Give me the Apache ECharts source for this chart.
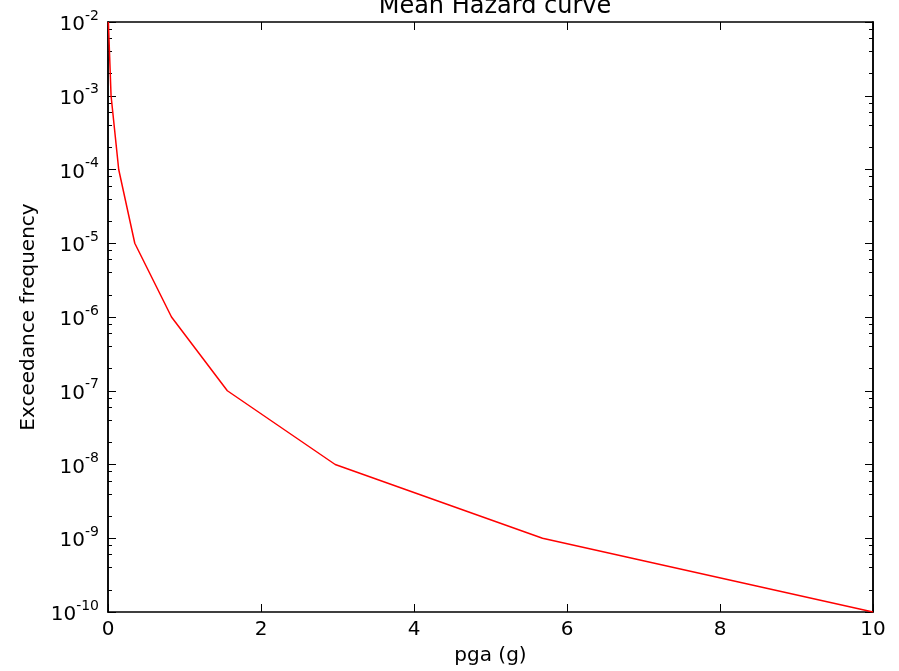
<!DOCTYPE html>
<html>
<head>
<meta charset="utf-8">
<script src="https://cdn.jsdelivr.net/npm/echarts@6/dist/echarts.min.js"></script>
<style>
  html, body { margin: 0; padding: 0; background: #fff; }
  #main { width: 899px; height: 671px; }
</style>
</head>
<body>
<div id="main"></div>
<script>
// pga (g) vs exceedance frequency
var pga = [0.005, 0.04, 0.14, 0.35, 0.83, 1.56, 2.97, 5.68, 10]
var freq = [1e-2, 1e-3, 1e-4, 1e-5, 1e-6, 1e-7, 1e-8, 1e-9, 1e-10]

var font = 'DejaVu Sans'

// minor ticks of log axis at 2,4,6,8 x 10^n
var minor = []
for (var d = -10; d < -2; d++) {
  [2, 4, 6, 8].forEach(function (k) { minor.push(k * Math.pow(10, d)) })
}

var chart = echarts.init(document.getElementById('main'))

var axLine = { color: '#000', width: 1.5 }
var tickMaj = { inside: true, length: 8, lineStyle: { color: '#000', width: 1 } }
var tickMin = { inside: true, length: 4, customValues: minor, lineStyle: { color: '#000', width: 1 } }

function logAxis(pos, showLabel, ticks) {
  var ax = {
    type: 'log', logBase: 10, min: 1e-10, max: 1e-2, interval: 1,
    position: pos,
    axisLine: { show: true, onZero: false, lineStyle: axLine },
    axisTick: ticks,
    splitLine: { show: false },
    axisLabel: { show: false }
  }
  if (showLabel) {
    ax.axisLabel = {
      show: true, margin: 9,
      formatter: function (v) {
        var e = Math.round(Math.log10(v))
        return '{b|10}{s|' + e + '}'
      },
      rich: {
        b: { fontSize: 20, fontFamily: font, color: '#000', lineHeight: 26, verticalAlign: 'bottom' },
        s: { fontSize: 14, fontFamily: font, color: '#000', lineHeight: 26, verticalAlign: 'top' }
      }
    }
    ax.name = 'Exceedance frequency'
    ax.nameLocation = 'middle'
    ax.nameGap = 69
    ax.nameTextStyle = { fontSize: 20, fontFamily: font, color: '#000' }
  }
  return ax
}

chart.setOption({
  animation: false,
  title: {
    text: 'Mean Hazard curve',
    left: 490, textAlign: 'center', top: -10,
    textStyle: { fontSize: 24, fontWeight: 'normal', fontFamily: font, color: '#000' }
  },
  grid: { left: 108, right: 26, top: 22, bottom: 54 },
  xAxis: [
    {
      type: 'value', min: 0, max: 10, interval: 2, position: 'bottom',
      axisLine: { show: true, onZero: false, lineStyle: axLine },
      axisTick: tickMaj,
      splitLine: { show: false },
      axisLabel: { fontSize: 20, fontFamily: font, color: '#000', margin: 8 },
      name: 'pga (g)', nameLocation: 'middle', nameGap: 34,
      nameTextStyle: { fontSize: 20, fontFamily: font, color: '#000' }
    },
    {
      type: 'value', min: 0, max: 10, interval: 2, position: 'top',
      axisLine: { show: true, onZero: false, lineStyle: axLine },
      axisTick: tickMaj,
      splitLine: { show: false },
      axisLabel: { show: false }
    }
  ],
  yAxis: [
    logAxis('left', true, tickMaj),
    logAxis('left', false, tickMin),
    logAxis('right', false, tickMaj),
    logAxis('right', false, tickMin)
  ],
  series: [{
    type: 'line',
    xAxisIndex: 0, yAxisIndex: 0,
    data: pga.map(function (x, i) { return [x, freq[i]] }),
    showSymbol: false,
    lineStyle: { color: '#ff0000', width: 1.5 },
    itemStyle: { color: '#ff0000' }
  }]
})
</script>
</body>
</html>
